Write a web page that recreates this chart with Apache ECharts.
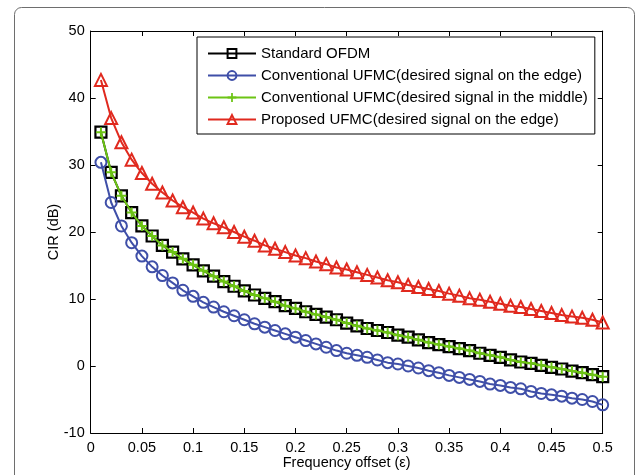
<!DOCTYPE html>
<html>
<head>
<meta charset="utf-8">
<script src="https://cdn.jsdelivr.net/npm/echarts@6/dist/echarts.min.js"></script>
<style>
html,body{margin:0;padding:0;background:#fff;}
#chart{width:637px;height:475px;}
</style>
</head>
<body>
<div id="chart"></div>
<script>
const offsets = [0.01,0.02,0.03,0.04,0.05,0.06,0.07,0.08,0.09,0.10,
  0.11,0.12,0.13,0.14,0.15,0.16,0.17,0.18,0.19,0.20,
  0.21,0.22,0.23,0.24,0.25,0.26,0.27,0.28,0.29,0.30,
  0.31,0.32,0.33,0.34,0.35,0.36,0.37,0.38,0.39,0.40,
  0.41,0.42,0.43,0.44,0.45,0.46,0.47,0.48,0.49,0.50];

const standardOFDM = [34.9,28.9,25.4,22.9,20.9,19.4,18.0,17.0,16.0,15.1,
  14.2,13.4,12.6,11.9,11.2,10.6,10.1,9.6,9.0,8.6,
  8.1,7.7,7.3,6.9,6.4,6.0,5.6,5.3,5.0,4.6,
  4.3,3.9,3.5,3.2,2.9,2.6,2.3,1.9,1.6,1.3,
  0.9,0.6,0.4,0.1,-0.2,-0.45,-0.75,-1.0,-1.3,-1.6];

const convEdge = [30.4,24.4,20.9,18.4,16.4,14.8,13.5,12.4,11.3,10.4,
  9.5,8.8,8.1,7.5,6.9,6.3,5.8,5.3,4.8,4.3,
  3.8,3.3,2.8,2.3,1.9,1.6,1.3,0.9,0.5,0.3,
  0.0,-0.3,-0.7,-1.0,-1.4,-1.7,-2.0,-2.3,-2.7,-2.9,
  -3.2,-3.4,-3.8,-4.1,-4.3,-4.5,-4.8,-5.0,-5.3,-5.8];

const convMiddle = [34.9,28.9,25.4,22.9,20.9,19.4,18.0,17.0,16.0,15.1,
  14.2,13.4,12.6,11.9,11.2,10.6,10.1,9.6,9.0,8.6,
  8.1,7.7,7.3,6.9,6.4,6.0,5.6,5.3,5.0,4.6,
  4.3,3.9,3.5,3.2,2.9,2.6,2.3,1.9,1.6,1.3,
  0.9,0.6,0.4,0.1,-0.2,-0.45,-0.75,-1.0,-1.3,-1.6];

const proposedEdge = [42.7,37.0,33.4,30.8,28.8,27.2,25.9,24.7,23.7,22.9,
  22.0,21.3,20.7,20.0,19.3,18.7,18.0,17.5,17.0,16.5,
  16.1,15.6,15.2,14.7,14.4,14.0,13.6,13.2,12.8,12.5,
  12.1,11.8,11.5,11.2,10.8,10.5,10.1,9.9,9.6,9.3,
  9.0,8.8,8.5,8.2,7.9,7.6,7.4,7.2,6.9,6.5];

const seriesNames = [
  'Standard OFDM',
  'Conventional UFMC(desired signal on the edge)',
  'Conventional UFMC(desired signal in the middle)',
  'Proposed UFMC(desired signal on the edge)'
];

const FONT = '"Liberation Sans", Arial, Helvetica, sans-serif';
const BLACK = '#000000', BLUE = '#3f4fa8', GREEN = '#6cc414', RED = '#e0291e';
const PLUS = 'path://M4,0H6V4H10V6H6V10H4V6H0V4H4Z';

function pts(arr){ return offsets.map((x,i)=>[x, arr[i]]); }

const chart = echarts.init(document.getElementById('chart'), null, {renderer:'canvas'});

const axisCommon = {
  axisLine:{show:true, onZero:false, lineStyle:{color:'#000', width:1}},
  axisTick:{show:true, inside:true, length:5, lineStyle:{color:'#000', width:1}},
  splitLine:{show:false}
};

chart.setOption({
  animation:false,
  backgroundColor:'#ffffff',
  textStyle:{fontFamily:FONT},
  graphic:[{
    type:'rect', z:-10, silent:true,
    shape:{x:14.5, y:7.5, width:620, height:520, r:7},
    style:{fill:'none', stroke:'#6e6e6e', lineWidth:1}
  }],
  grid:{left:90.7, right:34.3, top:31, bottom:42, containLabel:false, outerBoundsMode:'none'},
  legend:{
    orient:'vertical', left:197, top:37,
    padding:[9,7,7,10],
    itemGap:7, itemWidth:48, itemHeight:11,
    backgroundColor:'#ffffff', borderColor:'#000', borderWidth:1,
    textStyle:{fontFamily:FONT, fontSize:15, color:'#000'},
    data:seriesNames
  },
  xAxis:[
    Object.assign({
      type:'value', min:0, max:0.5, interval:0.05, position:'bottom',
      axisLabel:{color:'#000', fontSize:14.5, fontFamily:FONT, margin:7,
        formatter:v=>String(Math.round(v*100)/100)},
      name:'Frequency offset (\u03b5)', nameLocation:'middle', nameGap:22,
      nameMoveOverlap:false,
      nameTextStyle:{color:'#000', fontSize:14.5, fontFamily:FONT}
    }, axisCommon),
    Object.assign({
      type:'value', min:0, max:0.5, interval:0.05, position:'top',
      axisLabel:{show:false}
    }, axisCommon)
  ],
  yAxis:[
    Object.assign({
      type:'value', min:-10, max:50, interval:10, position:'left',
      axisLabel:{color:'#000', fontSize:14.5, fontFamily:FONT, margin:6},
      name:'CIR (dB)', nameLocation:'middle', nameGap:29, nameRotate:90,
      nameMoveOverlap:false,
      nameTextStyle:{color:'#000', fontSize:14.5, fontFamily:FONT}
    }, axisCommon),
    Object.assign({
      type:'value', min:-10, max:50, interval:10, position:'right',
      axisLabel:{show:false}
    }, axisCommon)
  ],
  series:[
    {
      name:seriesNames[0], type:'line', data:pts(standardOFDM),
      symbol:'rect', symbolSize:11,
      lineStyle:{color:BLACK, width:2},
      itemStyle:{color:'rgba(255,255,255,0)', borderColor:BLACK, borderWidth:2.2},
      z:2
    },
    {
      name:seriesNames[1], type:'line', data:pts(convEdge),
      symbol:'circle', symbolSize:11,
      lineStyle:{color:BLUE, width:2},
      itemStyle:{color:'rgba(255,255,255,0)', borderColor:BLUE, borderWidth:2},
      z:3
    },
    {
      name:seriesNames[2], type:'line', data:pts(convMiddle),
      symbol:PLUS, symbolSize:10,
      lineStyle:{color:GREEN, width:2},
      itemStyle:{color:GREEN, borderWidth:0},
      z:4
    },
    {
      name:seriesNames[3], type:'line', data:pts(proposedEdge),
      symbol:'triangle', symbolSize:12,
      lineStyle:{color:RED, width:2},
      itemStyle:{color:'rgba(255,255,255,0)', borderColor:RED, borderWidth:2},
      z:5
    }
  ]
});
</script>
</body>
</html>
